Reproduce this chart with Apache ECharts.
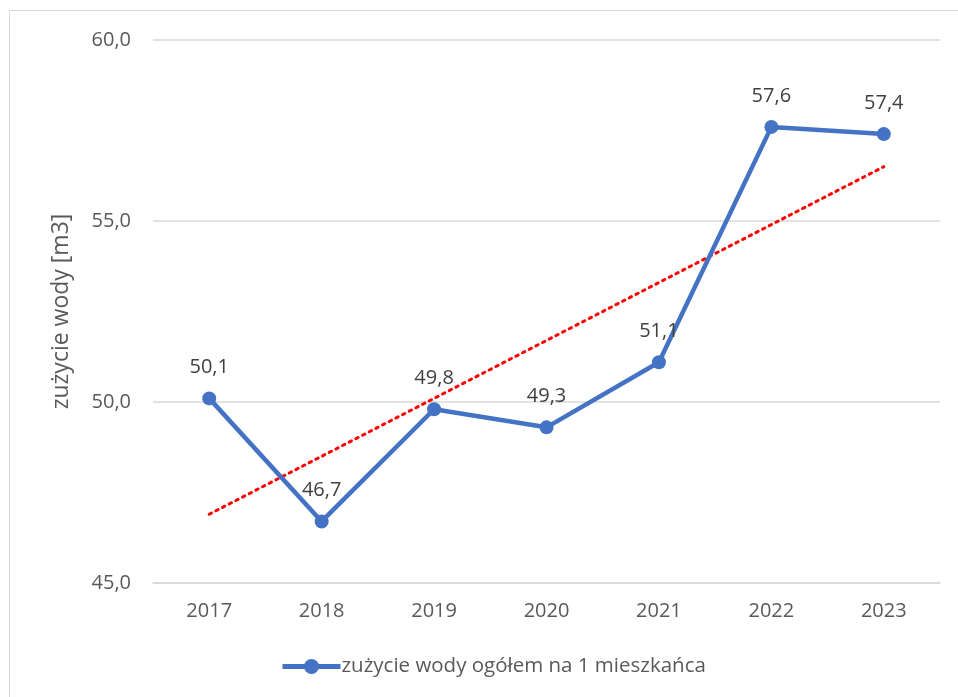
<!DOCTYPE html>
<html><head><meta charset="utf-8">
<script src="https://cdn.jsdelivr.net/npm/echarts@6/dist/echarts.min.js"></script>
<style>
html,body{margin:0;padding:0;background:#fff;}
#frame{position:absolute;left:9px;top:10px;width:960px;height:700px;border:1.5px solid #d9d9d9;box-sizing:border-box;}
#c{position:absolute;left:0;top:0;width:958px;height:697px;}
</style></head>
<body><div id="frame"></div><div id="c"></div>
<script>
const years = ['2017','2018','2019','2020','2021','2022','2023'];
const usage = [50.1, 46.7, 49.8, 49.3, 51.1, 57.6, 57.4];
const trend = [46.9, 48.5, 50.1, 51.7, 53.3, 54.9, 56.5];
const seriesName = 'zużycie wody ogółem na 1 mieszkańca';
const yTitle = 'zużycie wody [m3]';
const font = '"Open Sans", "DejaVu Sans", sans-serif';
const fmt = v => v.toFixed(1).replace('.', ',');

const chart = echarts.init(document.getElementById('c'));
chart.setOption({
  animation: false,
  grid: {left: 153, right: 18, top: 40, bottom: 114},
  legend: {
    top: 651, left: 275, data: [seriesName],
    itemWidth: 58, itemHeight: 19, itemGap: 0,
    lineStyle: {width: 5, color: '#4472c4'},
    itemStyle: {color: '#4472c4'},
    textStyle: {fontFamily: font, fontSize: 20.5, color: '#595959', padding: [0,0,0,-4]}
  },
  xAxis: {
    type: 'category', data: years, boundaryGap: true,
    axisLine: {lineStyle: {color: '#d9d9d9', width: 1.5}},
    axisTick: {show: false},
    axisLabel: {fontFamily: font, fontSize: 20, color: '#595959', margin: 18}
  },
  yAxis: {
    type: 'value', min: 45, max: 60, interval: 5,
    name: yTitle, nameLocation: 'middle', nameGap: 80,
    nameTextStyle: {fontFamily: font, fontSize: 23, color: '#595959'},
    axisLine: {show: false}, axisTick: {show: false},
    splitLine: {lineStyle: {color: '#d9d9d9', width: 1.5}},
    axisLabel: {fontFamily: font, fontSize: 20, color: '#595959', margin: 22, formatter: v => fmt(v)}
  },
  series: [
    {
      name: 'trend', type: 'line', data: trend, symbol: 'none',
      lineStyle: {color: '#ff0000', width: 3, type: [2.5, 5], cap: 'round'},
      z: 3, silent: true
    },
    {
      name: seriesName, type: 'line', data: usage,
      symbol: 'circle', symbolSize: 14,
      lineStyle: {color: '#4472c4', width: 4.5},
      itemStyle: {color: '#4472c4'},
      label: {show: true, position: 'top', distance: 14, fontFamily: font, fontSize: 20, color: '#404040', formatter: p => fmt(p.value)},
      z: 4
    }
  ]
});
</script></body></html>
